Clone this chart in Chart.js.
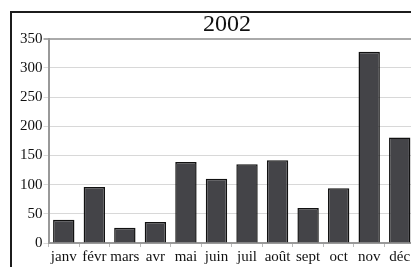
<!DOCTYPE html>
<html>
<head>
<meta charset="utf-8">
<script src="https://cdn.jsdelivr.net/npm/chart.js@4"></script>
<style>
    html, body { margin: 0; padding: 0; background: #fff; overflow: hidden; width: 411px; height: 267px; }
    #frame { position: absolute; left: 10px; top: 11px; width: 600px; height: 400px; border: 2px solid #1c1c1c; }
    #c { position: absolute; left: 0; top: 0; }
</style>
</head>
<body>
<div id="frame"></div>
<canvas id="c" width="454" height="267"></canvas>
<script>
// mois et valeurs 2002
const months = ['janv', 'févr', 'mars', 'avr', 'mai', 'juin', 'juil', 'août', 'sept', 'oct', 'nov', 'déc'];
const values = [40, 96, 26, 36, 139, 110, 135, 142, 60, 94, 328, 181];
const yTicks = [0, 50, 100, 150, 200, 250, 300, 350];
const title = '2002';

const serif = "'Liberation Serif', 'DejaVu Serif', serif";

// le titre est centré sur le cadre entier, pas sur la zone du graphe
const shiftTitle = {
    id: 'shiftTitle',
    afterLayout: chart => {
        if (!chart.titleBlock) return;
        chart.titleBlock.left += 10;
        chart.titleBlock.right += 10;
    }
};

new Chart(document.getElementById('c'), {
    type: 'bar',
    data: {
        labels: months,
        datasets: [{
            data: values,
            backgroundColor: '#444448',
            borderColor: '#111',
            borderWidth: 1.5,
            barPercentage: 0.7,
            categoryPercentage: 1
        }]
    },
    options: {
        responsive: false,
        animation: false,
        devicePixelRatio: 1,
        layout: { padding: { left: 19, right: 39, top: 0, bottom: 0 } },
        plugins: {
            legend: { display: false },
            tooltip: { enabled: false },
            title: {
                display: true,
                text: title,
                color: '#111',
                font: { family: serif, size: 24, weight: 'normal' },
                padding: { top: 10, bottom: 0 }
            }
        },
        scales: {
            x: {
                grid: { display: true, drawOnChartArea: false, drawTicks: true, tickLength: 4, color: '#bbb' },
                border: { display: true, color: '#999', width: 2 },
                ticks: { color: '#111', padding: 1, font: { family: serif, size: 15 }, maxRotation: 0, autoSkip: false }
            },
            y: {
                min: yTicks[0],
                max: yTicks[yTicks.length - 1],
                afterBuildTicks: s => { s.ticks = yTicks.map(v => ({ value: v })); },
                grid: {
                    color: ctx => ctx.tick && ctx.tick.value === 350 ? '#aaa' : '#d8d8d8',
                    lineWidth: ctx => ctx.tick && ctx.tick.value === 350 ? 2 : 1,
                    tickLength: 5
                },
                border: { display: true, color: '#999', width: 2 },
                ticks: { color: '#111', padding: 1, font: { family: serif, size: 15 } }
            }
        }
    },
    plugins: [shiftTitle]
});
</script>
</body>
</html>
